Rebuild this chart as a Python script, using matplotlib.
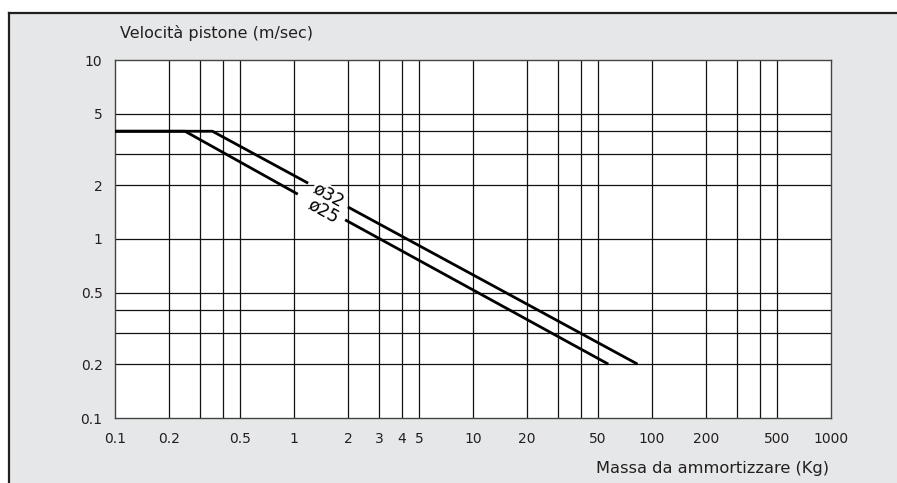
import matplotlib
matplotlib.use("Agg")
import matplotlib.pyplot as plt
from matplotlib.patches import Rectangle
from matplotlib.lines import Line2D
from matplotlib.ticker import FixedLocator, FixedFormatter, NullLocator

# curves (mass kg, velocity m/s), split where the label sits
m32_a = [0.1, 0.35, 1.2]
v32_a = [4.0, 4.0, 2.05]
m32_b = [2.0, 83]
v32_b = [1.51, 0.2]

m25_a = [0.1, 0.246, 1.05]
v25_a = [4.0, 4.0, 1.78]
m25_b = [1.93, 57]
v25_b = [1.28, 0.2]

xgrid = [0.2, 0.3, 0.4, 0.5, 1, 2, 3, 4, 5, 10, 20, 30, 40, 50, 100, 200, 300, 400, 500]
ygrid = [0.2, 0.3, 0.4, 0.5, 1, 2, 3, 4, 5]
xticks = [0.1, 0.2, 0.5, 1, 2, 3, 4, 5, 10, 20, 50, 100, 200, 500, 1000]
xlabels = ["0.1", "0.2", "0.5", "1", "2", "3", "4", "5", "10", "20", "50", "100", "200", "500", "1000"]
yticks = [0.1, 0.2, 0.5, 1, 2, 5, 10]
ylabels = ["0.1", "0.2", "0.5", "1", "2", "5", "10"]

W, H = 897, 483
fig = plt.figure(figsize=(W / 100, H / 100), dpi=100)
fig.patch.set_facecolor("white")

# grey panel with dark frame on top and left
fig.add_artist(Rectangle((9 / W, 0), 1, 1 - 13 / H, transform=fig.transFigure,
                         facecolor="#e6e7e8", edgecolor="none", zorder=0))
fig.add_artist(Line2D([8.5 / W, 1], [1 - 12.5 / H, 1 - 12.5 / H], transform=fig.transFigure,
                      color="#231f20", lw=1.6))
fig.add_artist(Line2D([8.5 / W, 8.5 / W], [0, 1 - 12.5 / H], transform=fig.transFigure,
                      color="#231f20", lw=1.6))

ax = fig.add_axes([115 / W, 1 - 418 / H, 716 / W, 358 / H])
ax.set_facecolor("white")
ax.set_xscale("log")
ax.set_yscale("log")
ax.set_xlim(0.1, 1000)
ax.set_ylim(0.1, 10)

for x in xgrid:
    ax.axvline(x, color="#111111", lw=0.9, zorder=1)
for y in ygrid:
    ax.axhline(y, color="#111111", lw=0.9, zorder=1)

for s in ax.spines.values():
    s.set_color("#444444")
    s.set_linewidth(1.0)

ax.xaxis.set_major_locator(FixedLocator(xticks))
ax.xaxis.set_major_formatter(FixedFormatter(xlabels))
ax.xaxis.set_minor_locator(NullLocator())
ax.yaxis.set_major_locator(FixedLocator(yticks))
ax.yaxis.set_major_formatter(FixedFormatter(ylabels))
ax.yaxis.set_minor_locator(NullLocator())
ax.tick_params(axis="both", length=0, labelsize=10, colors="#231f20")
ax.tick_params(axis="x", pad=10)
ax.tick_params(axis="y", pad=9)

lw = 2.0
ax.plot(m32_a, v32_a, color="black", lw=lw, solid_capstyle="butt", zorder=3)
ax.plot(m32_b, v32_b, color="black", lw=lw, solid_capstyle="butt", zorder=3)
ax.plot(m25_a, v25_a, color="black", lw=lw, solid_capstyle="butt", zorder=3)
ax.plot(m25_b, v25_b, color="black", lw=lw, solid_capstyle="butt", zorder=3)

ax.text(1.56, 1.76, "ø32", rotation=-29, ha="center", va="center", fontsize=12.5,
        rotation_mode="anchor", zorder=4,
        bbox=dict(facecolor="white", edgecolor="none", pad=0.5))
ax.text(1.45, 1.44, "ø25", rotation=-29, ha="center", va="center", fontsize=12.5,
        rotation_mode="anchor", zorder=4,
        bbox=dict(facecolor="white", edgecolor="none", pad=0.5))

fig.text(120 / W, 1 - 33 / H, "Velocità pistone (m/sec)", ha="left", va="center",
         fontsize=11.5, color="#231f20")
fig.text(829 / W, 1 - 468 / H, "Massa da ammortizzare (Kg)", ha="right", va="center",
         fontsize=11.7, color="#231f20")

fig.savefig("out.png", dpi=100)
